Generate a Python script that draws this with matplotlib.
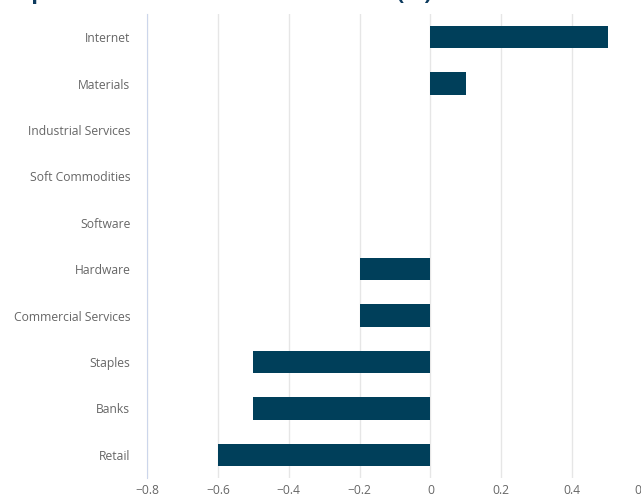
import numpy as np
import matplotlib.pyplot as plt

# data
sectors = ['Internet', 'Materials', 'Industrial Services', 'Soft Commodities', 'Software',
           'Hardware', 'Commercial Services', 'Staples', 'Banks', 'Retail']
change = [0.5, 0.1, 0, 0, 0, -0.2, -0.2, -0.5, -0.5, -0.6]
xticks = [-0.8, -0.6, -0.4, -0.2, 0, 0.2, 0.4, 0.6]

barColor = '#003f5a'
gridColor = '#e6e6e6'
axisColor = '#ccd6eb'
labelColor = '#666666'

plt.rcParams['font.family'] = ['Open Sans', 'DejaVu Sans']

fig = plt.figure(figsize=(6.41, 4.97), dpi=100)
ax = fig.add_axes([147/641, 1-478/497, (643-147)/641, (478-14)/497])

y = np.arange(len(sectors))
ax.barh(y, change, height=0.48, color=barColor, zorder=3)
ax.set_ylim(len(sectors)-0.5, -0.5)
ax.set_xlim(-0.8, 0.6)

ax.set_yticks(y)
ax.set_yticklabels(sectors)
ax.set_xticks(xticks)
ax.set_xticklabels(['\u22120.8', '\u22120.6', '\u22120.4', '\u22120.2', '0', '0.2', '0.4', '0.6'])

ax.tick_params(axis='y', length=0, pad=12, labelsize=8.7, labelcolor=labelColor)
ax.tick_params(axis='x', length=0, pad=4, labelsize=8.7, labelcolor=labelColor)

ax.grid(axis='x', color=gridColor, linewidth=1, zorder=0)
for s in ['top', 'right', 'bottom']:
    ax.spines[s].set_visible(False)
ax.spines['left'].set_color(axisColor)
ax.spines['left'].set_zorder(4)

# title is cut off at the top of the image
fig.text(6/641, 1.0 + 1/497, 'Top Sector Performance Last Week (%)', fontsize=16, fontweight='bold',
         color='#0d3b5e', va='baseline', ha='left')

fig.savefig('out.png', dpi=100)
